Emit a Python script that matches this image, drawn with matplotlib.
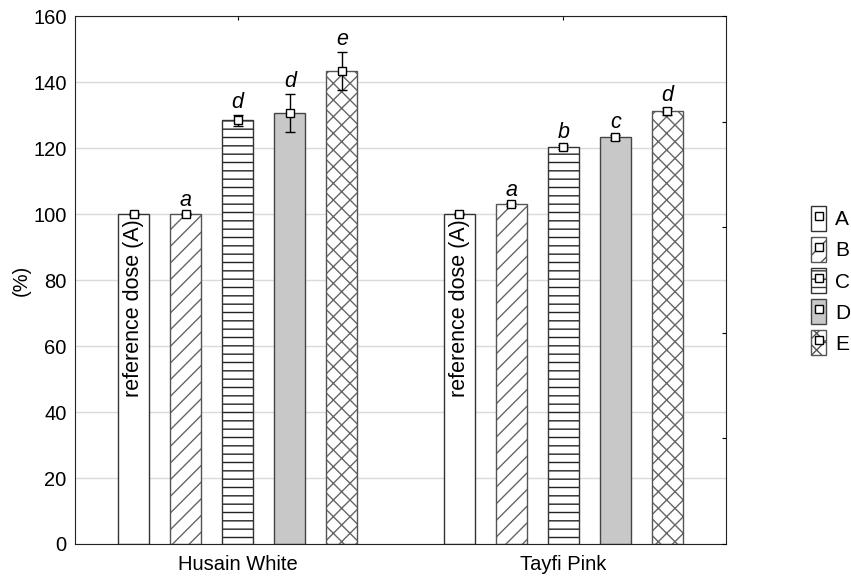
import numpy as np
import matplotlib.pyplot as plt
from matplotlib.colors import to_rgba
from matplotlib.patches import Patch
from matplotlib.lines import Line2D

plt.rcParams['font.family'] = ['Liberation Sans', 'DejaVu Sans']
plt.rcParams['hatch.linewidth'] = 1.0

cultivars = ['Husain White', 'Tayfi Pink']
doses = ['A', 'B', 'C', 'D', 'E']
means = {
    'A': [100.0, 100.0],
    'B': [100.0, 102.9],
    'C': [128.4, 120.2],
    'D': [130.7, 123.3],
    'E': [143.3, 131.1],
}
errors = {
    'A': [0.4, 0.4],
    'B': [0.4, 0.5],
    'C': [1.6, 0.6],
    'D': [5.8, 0.8],
    'E': [5.8, 1.0],
}
letters = {
    'A': [None, None],
    'B': ['a', 'a'],
    'C': ['d', 'b'],
    'D': ['d', 'c'],
    'E': ['e', 'd'],
}

styles = {
    'A': dict(fc='white', hatch=None, hc='black', ec='#333333'),
    'B': dict(fc='white', hatch='//', hc='#666666', ec='#555555'),
    'C': dict(fc='white', hatch='--', hc='#222222', ec='#333333'),
    'D': dict(fc='#c8c8c8', hatch=None, hc='black', ec='#444444'),
    'E': dict(fc='white', hatch='xx', hc='#666666', ec='#555555'),
}

fig = plt.figure(figsize=(8.51, 5.77), dpi=100)
ax = fig.add_axes([0.0881, 0.0572, 0.765, 0.915])

x = np.arange(len(cultivars))
step = 0.16
width = 0.095

for i, d in enumerate(doses):
    pos = x + (i - 2) * step
    st = styles[d]
    bars = ax.bar(pos, means[d], width, facecolor=st['fc'],
                  edgecolor=st['ec'], linewidth=1.0, zorder=2)
    if st['hatch']:
        for b in bars:
            b.set_hatch(st['hatch'])
            b._hatch_color = to_rgba(st['hc'])
    ax.errorbar(pos, means[d], yerr=errors[d], fmt='s', ms=6, mfc='white',
                mec='black', mew=1.0, ecolor='black', elinewidth=1.0,
                capsize=3.8, capthick=1.0, zorder=4)
    for j, lab in enumerate(letters[d]):
        if lab:
            ax.text(pos[j], means[d][j] + errors[d][j] + 0.6, lab,
                    ha='center', va='bottom', style='italic', fontsize=15.5)

# vertical label inside the reference bars
for j in range(len(cultivars)):
    ax.text(x[j] - 2 * step, 98.4, 'reference dose (A)', rotation=90,
            ha='center', va='top', fontsize=15.5, zorder=5)

ax.set_xlim(-0.5, 1.5)
ax.set_ylim(0, 160)
ax.set_yticks(np.arange(0, 161, 20))
ax.set_xticks(x)
ax.set_xticklabels(cultivars, fontsize=14.5)
ax.tick_params(axis='y', labelsize=14.5, length=0, pad=6)
ax.tick_params(axis='x', direction='in', top=True, length=3, pad=8)
ax.set_ylabel('(%)', fontsize=14.5, labelpad=2)
ax.yaxis.grid(True, color='#dadada', linewidth=1.0, zorder=0)
ax.set_axisbelow(True)
for s in ax.spines.values():
    s.set_color('#222222')

# right-hand scale with five divisions, ticks only
rax = ax.twinx()
rax.set_ylim(0, 160)
rax.set_yticks(np.arange(0, 161, 32))
rax.tick_params(axis='y', direction='in', length=3, labelright=False)
for s in rax.spines.values():
    s.set_visible(False)

handles = []
for d in doses:
    st = styles[d]
    p = Patch(facecolor=st['fc'], edgecolor=st['ec'], hatch=st['hatch'],
              linewidth=1.0)
    m = Line2D([], [], marker='s', ls='none', ms=6, mfc='white',
               mec='black', mew=1.0)
    handles.append((p, m))

fig.legend(handles, doses, loc='upper left',
           bbox_to_anchor=(811 / 851, 1 - 206 / 577),
           frameon=False, fontsize=15, handlelength=0.72, handleheight=1.47,
           handletextpad=0.45, labelspacing=0.29, borderpad=0,
           borderaxespad=0)

fig.savefig('out.png', dpi=100)
